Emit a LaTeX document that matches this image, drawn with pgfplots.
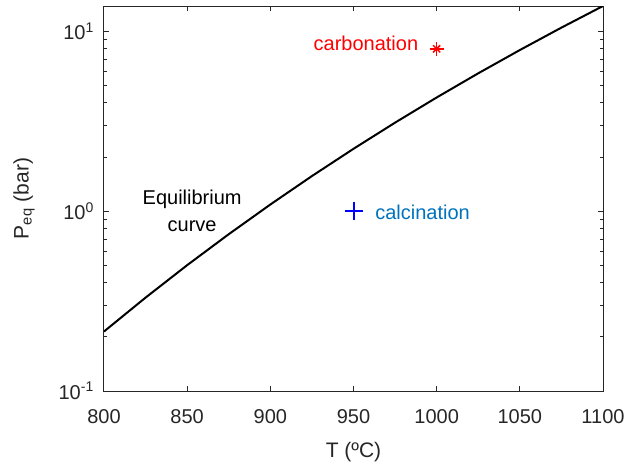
\documentclass[border=0pt]{standalone}
\usepackage{pgfplots}
\pgfplotsset{compat=1.18}
\usepackage{fontspec}
\setmainfont{Liberation Sans}
\definecolor{axgray}{RGB}{38,38,38}
\definecolor{matblue}{RGB}{0,114,189}

\begin{document}
\begin{tikzpicture}
    \begin{axis}[
        scale only axis,
        width=499pt,
        height=385pt,
        ymode=log,
        xmin=800, xmax=1100,
        ymin=0.1, ymax=13.85,
        xtick={800,850,900,950,1000,1050,1100},
        xticklabels={800,850,900,950,1000,1050,1100},
        ytick={0.1,1,10},
        yticklabels={10\textsuperscript{-1},10\textsuperscript{0},10\textsuperscript{1}},
        tick align=inside,
        tick pos=both,
        major tick length=5pt,
        minor tick length=3pt,
        axis line style={axgray, line width=1pt},
        every tick/.style={axgray, line width=1pt},
        tick label style={font=\fontsize{20}{24}\selectfont, text=axgray, inner sep=0pt},
        xticklabel style={anchor=north, yshift=-18pt},
        yticklabel style={anchor=east, xshift=-10pt},
        xlabel={T (ºC)},
        ylabel={P\textsubscript{eq} (bar)},
        every axis x label/.style={at={(axis description cs:0.5,-0.1584)}, anchor=center,
            font=\fontsize{21}{25}\selectfont, text=axgray, inner sep=0pt},
        every axis y label/.style={at={(axis description cs:-0.1603,0.5)}, rotate=90, anchor=center,
            font=\fontsize{21}{25}\selectfont, text=axgray, inner sep=0pt},
    ]
        % equilibrium curve
        \addplot[black, line width=2pt] coordinates {
            (800, 0.2143)
            (825, 0.3308)
            (850, 0.5011)
            (875, 0.7452)
            (900, 1.0896)
            (925, 1.5685)
            (950, 2.2240)
            (975, 3.110)
            (1000, 4.2915)
            (1025, 5.849)
            (1050, 7.880)
            (1075, 10.499)
            (1100, 13.849)
        };
        % carbonation point (8-armed asterisk)
        \addplot[only marks, mark=+, mark size=7pt, red,
            mark options={line width=1.5pt}] coordinates {(1000, 8)};
        \addplot[only marks, mark=x, mark size=5pt, red,
            mark options={line width=1.5pt}] coordinates {(1000, 8)};
        % calcination point
        \addplot[only marks, mark=+, mark size=9pt, blue,
            mark options={line width=2pt}] coordinates {(950, 1)};

        \node[anchor=east, inner sep=0pt, text=red, font=\fontsize{20}{24}\selectfont]
            at (axis cs:989, 8.62) {carbonation};
        \node[anchor=west, inner sep=0pt, text=matblue, font=\fontsize{20}{24}\selectfont]
            at (axis cs:963, 0.98) {calcination};
        \node[anchor=center, inner sep=0pt, align=center, text=black, font=\fontsize{20}{27}\selectfont]
            at (axis cs:853, 1.0) {Equilibrium\\curve};
    \end{axis}
    \pgfresetboundingbox
    \path[use as bounding box] ([shift={(-104pt,-75pt)}]current axis.south west)
        rectangle ([shift={(26pt,6pt)}]current axis.north east);
\end{tikzpicture}
\end{document}
